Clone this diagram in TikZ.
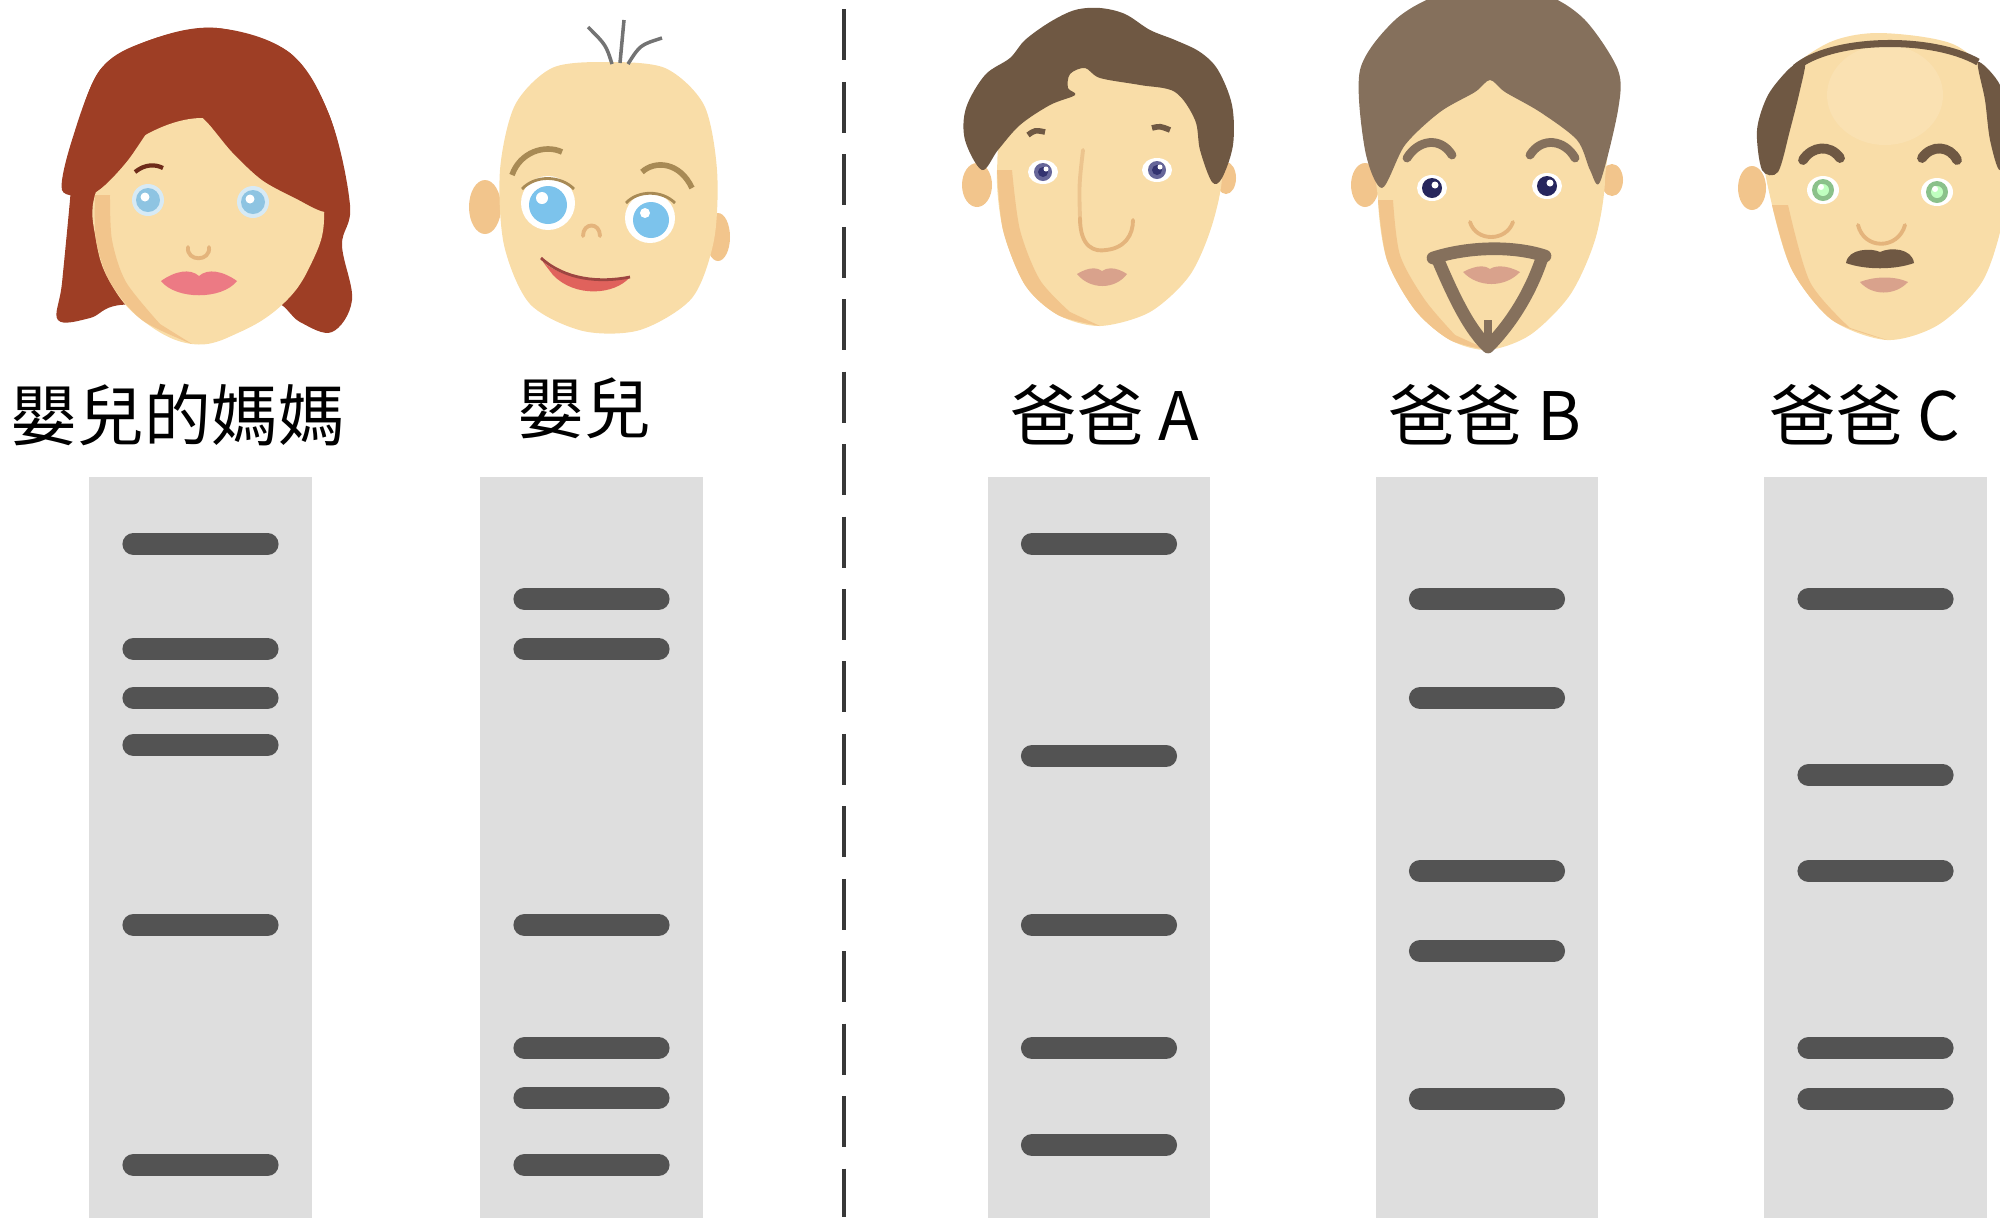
\documentclass[tikz,border=0pt]{standalone}
\usepackage{fontspec}
\newfontfamily\cjk{Noto Sans CJK TC}
\usetikzlibrary{calc}

\definecolor{skin}{HTML}{F9DDA8}
\definecolor{skinshade}{HTML}{F2C58C}
\definecolor{skinline}{HTML}{E4B47C}
\definecolor{momhair}{HTML}{9E3E25}
\definecolor{momlip}{HTML}{EC7A84}
\definecolor{darkhair}{HTML}{6F5843}
\definecolor{greyhair}{HTML}{85705C}
\definecolor{lip}{HTML}{D9A28C}
\definecolor{babylip}{HTML}{E0625C}
\definecolor{babybrow}{HTML}{A88A55}
\definecolor{iris}{HTML}{8EC4E2}
\definecolor{babyiris}{HTML}{7CC3EC}
\definecolor{lanegrey}{HTML}{DEDEDE}
\definecolor{bandgrey}{HTML}{535353}

\tikzset{
  lane/.style = {fill = lanegrey, minimum width = 2.22cm, minimum height = 7.7cm, anchor = north, inner sep = 0},
  band/.style = {draw = bandgrey, line width = 6.3pt, line cap = round},
  who/.style = {font = \cjk\fontsize{19}{22}\selectfont, inner sep = 0},
  divider/.style = {draw = black!78, line width = 1.4pt, dash pattern = on 14.5pt off 6.1pt},
  feature/.style = {draw = skinline, line width = 1.1pt, line cap = round}
}

\begin{document}
\begin{tikzpicture}[x = 0.01cm, y = -0.01cm]
\useasboundingbox (0,0) rectangle (2000,1217);
\clip (0,0) rectangle (2000,1217);

% mother
\fill[momhair] plot[smooth cycle, tension = 0.6] coordinates {(217,28) (290,53) (330,117) (350,205) (342,245) (352,300) (332,332) (300,322) (270,300) (200,305) (120,305) (90,318) (58,320) (62,283) (70,200) (75,140) (100,70) (150,40)};
\fill[skin] plot[smooth cycle, tension = 0.7] coordinates {(200,118) (270,145) (315,175) (324,220) (312,262) (285,302) (240,332) (192,344) (142,320) (110,282) (96,240) (95,195) (122,150)};
\fill[skinshade] plot[smooth] coordinates {(95,195) (96,240) (110,282) (142,320) (192,344)} -- plot[smooth] coordinates {(160,324) (126,282) (112,240) (110,195)} -- cycle;
\fill[momhair] plot[smooth cycle, tension = 0.5] coordinates {(62,190) (72,140) (100,70) (150,40) (217,28) (290,53) (330,117) (348,205) (325,212) (295,198) (262,180) (232,152) (205,120) (180,103) (155,122) (128,160) (105,185) (88,195)};
\draw[momhair!70!black, line width = 1.2pt] (135,172) .. controls (145,164) and (155,164) .. (163,168);
\foreach \ex/\ey in {148/200, 253/202} {
  \fill[iris!35!white] (\ex,\ey) circle[radius = 16];
  \fill[iris] (\ex,\ey) circle[radius = 12];
  \fill[white] (\ex-3,\ey-3) circle[radius = 4.5];
}
\draw[feature] (188,247) .. controls (186,262) and (211,262) .. (209,247);
\fill[momlip] (161,281) .. controls (175,271) and (190,268) .. (199,276) .. controls (208,268) and (223,271) .. (237,281) .. controls (222,300) and (176,300) .. cycle;

% baby
\fill[skinshade] (485,207) ellipse[x radius = 16, y radius = 27];
\fill[skinshade] (718,237) ellipse[x radius = 12, y radius = 24];
\fill[skin] plot[smooth cycle] coordinates {(605,62) (665,68) (704,105) (717,170) (714,240) (692,298) (640,330) (583,331) (530,304) (504,245) (500,170) (515,105) (552,68)};
\draw[black!55, line width = 1pt] (612,64) .. controls (606,45) .. (588,27);
\draw[black!55, line width = 1pt] (620,63) -- (624,20);
\draw[black!55, line width = 1pt] (628,64) .. controls (640,45) .. (662,38);
\draw[babybrow, line width = 1.6pt] (512,175) .. controls (520,152) and (545,144) .. (562,152);
\draw[babybrow, line width = 1.6pt] (642,172) .. controls (655,160) and (680,162) .. (692,188);
\fill[white] (548,203) circle[radius = 27];
\fill[babyiris] (548,205) circle[radius = 19];
\fill[white] (542,198) circle[radius = 6];
\fill[white] (650,218) circle[radius = 25];
\fill[babyiris] (651,220) circle[radius = 18];
\fill[white] (645,213) circle[radius = 5];
\draw[babybrow, line width = 0.8pt] (522,189) .. controls (535,175) and (560,175) .. (574,189);
\draw[babybrow, line width = 0.8pt] (626,203) .. controls (638,190) and (662,190) .. (675,203);
\draw[feature] (583,236) .. controls (583,222) and (600,222) .. (600,236);
\fill[babylip] (543,262) .. controls (565,280) and (600,283) .. (630,277) .. controls (615,295) and (575,298) .. (553,275) -- cycle;
\draw[babylip!70!black, line width = 0.8pt] (541,258) .. controls (565,280) and (600,283) .. (630,277);

% father A
\fill[skinshade] (977,185) ellipse[x radius = 15, y radius = 22];
\fill[skinshade] (1226,178) ellipse[x radius = 10, y radius = 16];
\fill[skin] plot[smooth cycle] coordinates {(1100,60) (1200,100) (1222,165) (1213,222) (1190,275) (1150,312) (1100,326) (1058,315) (1025,285) (1003,230) (997,170) (1010,120)};
\fill[skinshade] plot[smooth] coordinates {(997,170) (1003,230) (1025,285) (1058,315) (1100,326)} -- plot[smooth] coordinates {(1070,312) (1040,280) (1020,230) (1012,170)} -- cycle;
\fill[darkhair] plot[smooth cycle, tension = 0.55] coordinates {(965,140) (966,108) (985,75) (1010,58) (1025,40) (1050,22) (1075,10) (1100,8) (1125,14) (1150,30) (1175,40) (1200,52) (1218,70) (1232,105) (1233,145) (1222,178) (1212,182) (1200,150) (1195,120) (1175,92) (1140,85) (1100,78) (1085,68) (1070,74) (1068,88) (1075,95) (1050,105) (1020,125) (998,150) (982,170)};
\draw[darkhair, line width = 1.6pt] (1028,135) .. controls (1035,130) .. (1045,132);
\draw[darkhair, line width = 1.6pt] (1152,128) .. controls (1160,126) .. (1170,130);
\foreach \ex/\ey in {1043/172, 1157/170} {
  \fill[white] (\ex,\ey) ellipse[x radius = 15, y radius = 12];
  \fill[blue!20!gray] (\ex,\ey) circle[radius = 9];
  \fill[blue!30!black!80] (\ex,\ey) circle[radius = 5];
  \fill[white] (\ex+3,\ey-3) circle[radius = 2.5];
}
\draw[feature, skinline!60!skin] (1083,150) .. controls (1079,185) .. (1080,218);
\draw[feature] (1080,218) .. controls (1080,248) and (1095,252) .. (1106,250) .. controls (1125,248) and (1133,235) .. (1133,220);
\fill[lip] (1077,274) .. controls (1090,266) and (1098,268) .. (1102,271) .. controls (1106,268) and (1115,266) .. (1127,274) .. controls (1115,290) and (1090,290) .. cycle;

% father B
\fill[skinshade] (1365,185) ellipse[x radius = 14, y radius = 22];
\fill[skinshade] (1612,180) ellipse[x radius = 11, y radius = 16];
\fill[skin] plot[smooth cycle] coordinates {(1490,70) (1598,120) (1605,180) (1595,240) (1570,295) (1530,335) (1488,350) (1450,340) (1415,310) (1387,260) (1378,200) (1382,130)};
\fill[skinshade] plot[smooth] coordinates {(1378,200) (1387,260) (1415,310) (1450,340) (1488,350)} -- plot[smooth] coordinates {(1455,335) (1425,300) (1400,255) (1393,200)} -- cycle;
\fill[greyhair] plot[smooth cycle, tension = 0.5] coordinates {(1360,70) (1395,20) (1440,-5) (1490,-5) (1545,-5) (1585,20) (1618,70) (1618,110) (1600,182) (1590,170) (1577,140) (1540,112) (1505,92) (1490,80) (1475,92) (1440,112) (1405,145) (1382,188) (1365,150)};
\draw[greyhair, line width = 2.5pt, line cap = round] (1407,158) .. controls (1418,140) and (1440,136) .. (1452,155);
\draw[greyhair, line width = 2.5pt, line cap = round] (1530,155) .. controls (1542,136) and (1565,140) .. (1575,158);
\foreach \ex/\ey in {1432/188, 1547/186} {
  \fill[white] (\ex,\ey) ellipse[x radius = 15, y radius = 13];
  \fill[blue!25!black!85] (\ex,\ey) circle[radius = 10];
  \fill[white] (\ex+3,\ey-3) circle[radius = 3.5];
}
\draw[feature] (1470,222) .. controls (1476,242) and (1506,242) .. (1513,222);
\fill[lip] (1463,272) .. controls (1478,264) and (1486,266) .. (1490,269) .. controls (1494,266) and (1505,264) .. (1520,272) .. controls (1505,288) and (1478,288) .. cycle;
\draw[greyhair, line width = 3.6pt, line cap = round] (1433,258) .. controls (1470,246) and (1515,246) .. (1545,256);
\draw[greyhair, line width = 3.6pt, line join = round] (1438,260) .. controls (1455,300) and (1470,330) .. (1488,347) .. controls (1505,330) and (1528,300) .. (1542,258);
\draw[greyhair, line width = 2.5pt] (1488,347) -- (1488,320);

% father C
\fill[skinshade] (1752,188) ellipse[x radius = 14, y radius = 22];
\fill[skinshade] (2003,192) ellipse[x radius = 12, y radius = 22];
\fill[skin] plot[smooth cycle] coordinates {(1880,33) (1955,45) (2000,90) (2012,150) (2003,220) (1982,282) (1938,325) (1887,340) (1832,320) (1792,270) (1772,205) (1762,140) (1780,80) (1828,43)};
\fill[skinshade] plot[smooth] coordinates {(1772,205) (1792,270) (1832,320) (1887,340)} -- plot[smooth] coordinates {(1850,328) (1810,282) (1788,205)} -- cycle;
\fill[skin!88!white] (1885,95) ellipse[x radius = 58, y radius = 50];
\fill[darkhair] plot[smooth cycle] coordinates {(1762,170) (1757,130) (1768,95) (1790,68) (1805,62) (1800,90) (1790,130) (1778,172)};
\fill[darkhair] plot[smooth cycle] coordinates {(1978,62) (2000,85) (2010,130) (2000,170) (1990,140) (1985,100)};
\draw[darkhair, line width = 2pt] (1795,68) .. controls (1830,38) and (1930,35) .. (1978,62);
\draw[darkhair, line width = 2.8pt, line cap = round] (1803,160) .. controls (1812,146) and (1830,144) .. (1840,158);
\draw[darkhair, line width = 2.8pt, line cap = round] (1922,158) .. controls (1932,144) and (1950,146) .. (1957,160);
\foreach \ex/\ey in {1823/190, 1937/192} {
  \fill[white] (\ex,\ey) ellipse[x radius = 16, y radius = 14];
  \fill[green!30!gray!70] (\ex,\ey) circle[radius = 11];
  \fill[green!25!white] (\ex,\ey) circle[radius = 6];
  \fill[white] (\ex-2,\ey-3) circle[radius = 3];
}
\draw[feature] (1858,225) .. controls (1864,250) and (1898,250) .. (1905,225);
\fill[darkhair] (1846,263) .. controls (1848,248) and (1872,248) .. (1880,252) .. controls (1890,247) and (1912,248) .. (1914,263) .. controls (1895,270) and (1865,270) .. cycle;
\fill[lip] (1860,282) .. controls (1875,276) and (1895,276) .. (1908,282) .. controls (1895,296) and (1872,296) .. cycle;

% names
\node[who] (nameMom) at (178,415) {嬰兒的媽媽};
\node[who] (nameBaby) at (584,408) {嬰兒};
\node[who] (nameA) at (1105,415) {爸爸 A};
\node[who] (nameB) at (1485,415) {爸爸 B};
\node[who] (nameC) at (1865,415) {爸爸 C};

% gel lanes
\node[lane] (laneMom) at (200.5,476) {};
\node[lane] (laneBaby) at (591.5,476) {};
\node[lane] (laneA) at (1099,476) {};
\node[lane] (laneB) at (1487,476) {};
\node[lane] (laneC) at (1875.5,476) {};

\foreach \y in {544,649,698,745,925,1165}
  \draw[band] (laneMom.north |- 0,\y) +(-67,0) -- +(67,0);
\foreach \y in {599,649,925,1048,1098,1165}
  \draw[band] (laneBaby.north |- 0,\y) +(-67,0) -- +(67,0);
\foreach \y in {544,756,925,1048,1145}
  \draw[band] (laneA.north |- 0,\y) +(-67,0) -- +(67,0);
\foreach \y in {599,698,871,951,1099}
  \draw[band] (laneB.north |- 0,\y) +(-67,0) -- +(67,0);
\foreach \y in {599,775,871,1048,1099}
  \draw[band] (laneC.north |- 0,\y) +(-67,0) -- +(67,0);

\draw[divider] (844,-63) -- (844,1217);
\end{tikzpicture}
\end{document}
